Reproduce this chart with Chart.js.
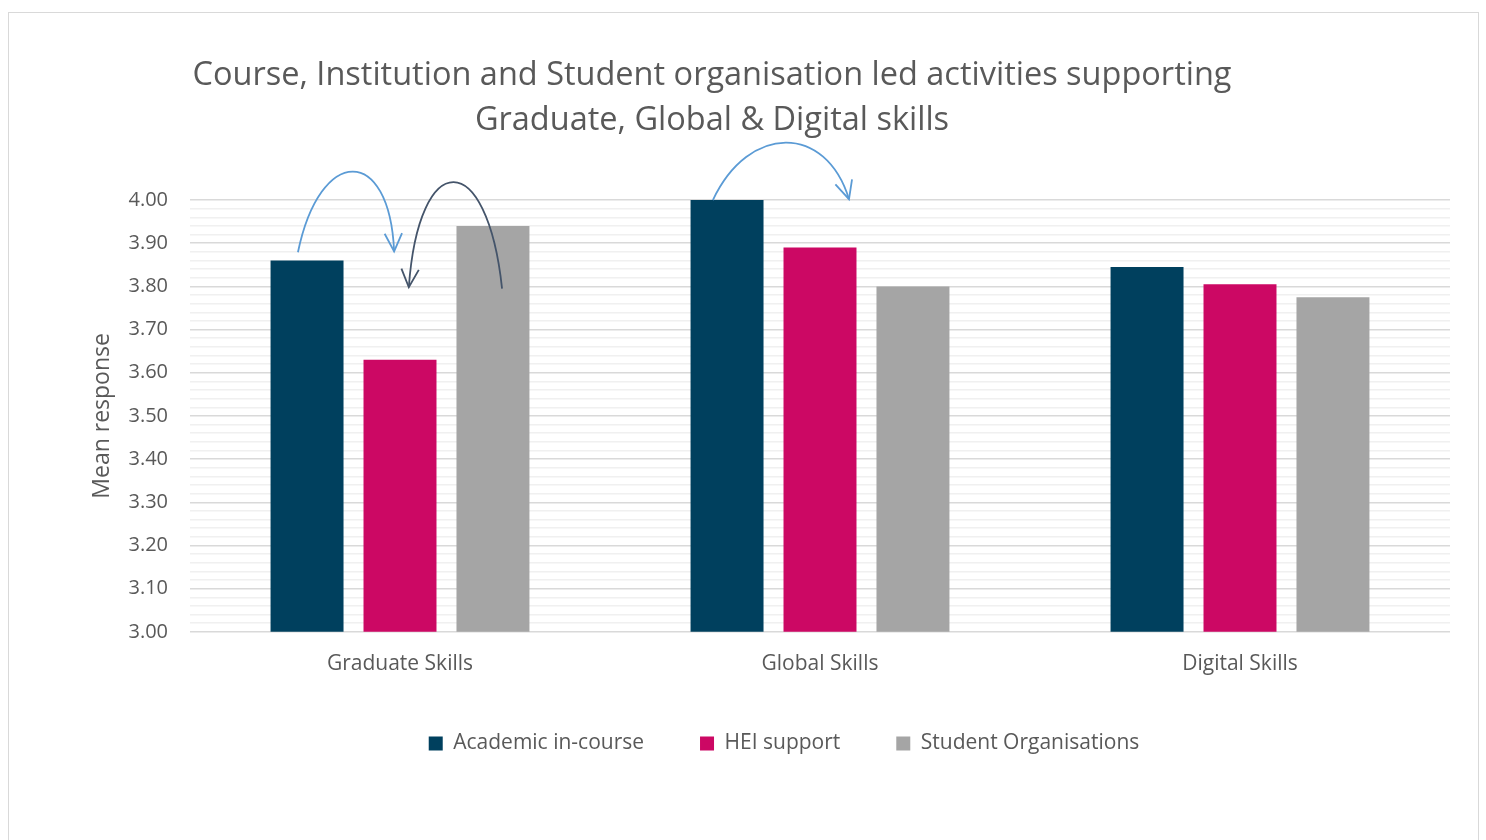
<!DOCTYPE html>
<html>
<head>
<meta charset="utf-8">
<script src="https://cdn.jsdelivr.net/npm/chart.js@4"></script>
<style>
  html, body { margin: 0; padding: 0; background: #fff; }
  #frame { position: absolute; left: 8px; top: 12px; width: 1471px; height: 830px; border: 1px solid #d9d9d9; box-sizing: border-box; }
  #chart { display: block; }
</style>
</head>
<body>
<div id="frame"><canvas id="chart" width="1469" height="828"></canvas></div>
<script>
// Datos del gráfico
const categorias = ['Graduate Skills', 'Global Skills', 'Digital Skills'];
const academico = [3.86, 4.00, 3.845];
const apoyoHEI = [3.63, 3.89, 3.805];
const orgEstudiantes = [3.94, 3.80, 3.775];
const etiquetasSerie = ['Academic in-course', 'HEI support', 'Student Organisations'];
const tituloLineas = ['Course, Institution and Student organisation led activities supporting', 'Graduate, Global & Digital skills'];

// Flechas de anotación: [indice categoria, valor] -> inicio, control1, control2, fin
const flechas = [
    { color: '#5b9bd5', pts: [[-0.243, 3.879], [-0.19, 4.128], [-0.025, 4.128], [-0.014, 3.881]] },
    { color: '#44546a', pts: [[0.243, 3.795], [0.207, 4.123], [0.045, 4.123], [0.021, 3.798]] },
    { color: '#5b9bd5', pts: [[0.745, 4.0], [0.831, 4.177], [1.014, 4.177], [1.069, 4.002]] }
];

const gris = '#595959';
const fuente = "'Open Sans', 'Noto Sans', sans-serif";

function esMayor(v) {
    return Math.abs(Math.round(v * 10) - v * 10) < 1e-6;
}

const pluginFlechas = {
    id: 'flechas',
    afterDatasetsDraw(chart) {
        const c = chart.ctx;
        const sx = chart.scales.x, sy = chart.scales.y;
        c.save();
        c.lineWidth = 1.8;
        flechas.forEach(f => {
            const p = f.pts.map(([i, v]) => [sx.getPixelForValue(i), sy.getPixelForValue(v)]);
            c.strokeStyle = f.color;
            c.beginPath();
            c.moveTo(p[0][0], p[0][1]);
            c.bezierCurveTo(p[1][0], p[1][1], p[2][0], p[2][1], p[3][0], p[3][1]);
            c.stroke();
            // punta de flecha
            const ang = Math.atan2(p[3][1] - p[2][1], p[3][0] - p[2][0]);
            const largo = 20, abre = 0.45;
            c.beginPath();
            c.moveTo(p[3][0] - largo * Math.cos(ang - abre), p[3][1] - largo * Math.sin(ang - abre));
            c.lineTo(p[3][0], p[3][1]);
            c.lineTo(p[3][0] - largo * Math.cos(ang + abre), p[3][1] - largo * Math.sin(ang + abre));
            c.stroke();
        });
        c.restore();
    }
};

// Mover titulo y leyenda (como en el original, no centrados en el canvas)
const pluginCentros = {
    id: 'centros',
    afterLayout(chart) {
        const mover = (caja, centro, dy) => {
            if (!caja) return;
            const dx = centro - (caja.left + caja.right) / 2;
            caja.left += dx;
            caja.right += dx;
            caja.top += dy;
            caja.bottom += dy;
        };
        mover(chart.titleBlock, 703, 0);
        mover(chart.legend, 775, -12);
    }
};

const ctx = document.getElementById('chart').getContext('2d');
new Chart(ctx, {
    type: 'bar',
    data: {
        labels: categorias,
        datasets: [
            { label: etiquetasSerie[0], data: academico, backgroundColor: '#00405e' },
            { label: etiquetasSerie[1], data: apoyoHEI, backgroundColor: '#cc0864' },
            { label: etiquetasSerie[2], data: orgEstudiantes, backgroundColor: '#a5a5a5' }
        ]
    },
    options: {
        responsive: false,
        animation: false,
        layout: { padding: { left: 0, right: 28, top: 0, bottom: 65 } },
        datasets: { bar: { categoryPercentage: 0.664, barPercentage: 0.785 } },
        scales: {
            x: {
                grid: { display: false },
                border: { display: false },
                ticks: { color: gris, font: { family: fuente, size: 21 }, padding: 12 }
            },
            y: {
                min: 3, max: 4,
                border: { display: false },
                grid: {
                    drawTicks: false,
                    lineWidth: 1.5,
                    color: (c) => c.tick && esMayor(c.tick.value) ? '#d9d9d9' : '#f0f0f0'
                },
                ticks: {
                    stepSize: 0.02,
                    maxTicksLimit: 100,
                    autoSkip: false,
                    padding: 22,
                    color: gris,
                    font: { family: fuente, size: 20 },
                    callback: (v) => esMayor(v) ? v.toFixed(2) : ''
                },
                title: {
                    display: true,
                    text: 'Mean response',
                    color: gris,
                    font: { family: fuente, size: 23 },
                    padding: { top: 80, bottom: 0 }
                },
                afterFit: (s) => { s.width = 181; }
            }
        },
        plugins: {
            title: {
                display: true,
                text: tituloLineas,
                color: gris,
                font: { family: fuente, size: 32.5, weight: 'normal', lineHeight: 1.385 },
                padding: { top: 40, bottom: 57 }
            },
            legend: {
                position: 'bottom',
                labels: {
                    color: gris,
                    boxWidth: 14,
                    boxHeight: 14,
                    padding: 56,
                    font: { family: fuente, size: 21 }
                }
            },
            tooltip: { enabled: false }
        }
    },
    plugins: [pluginFlechas, pluginCentros]
});
</script>
</body>
</html>
